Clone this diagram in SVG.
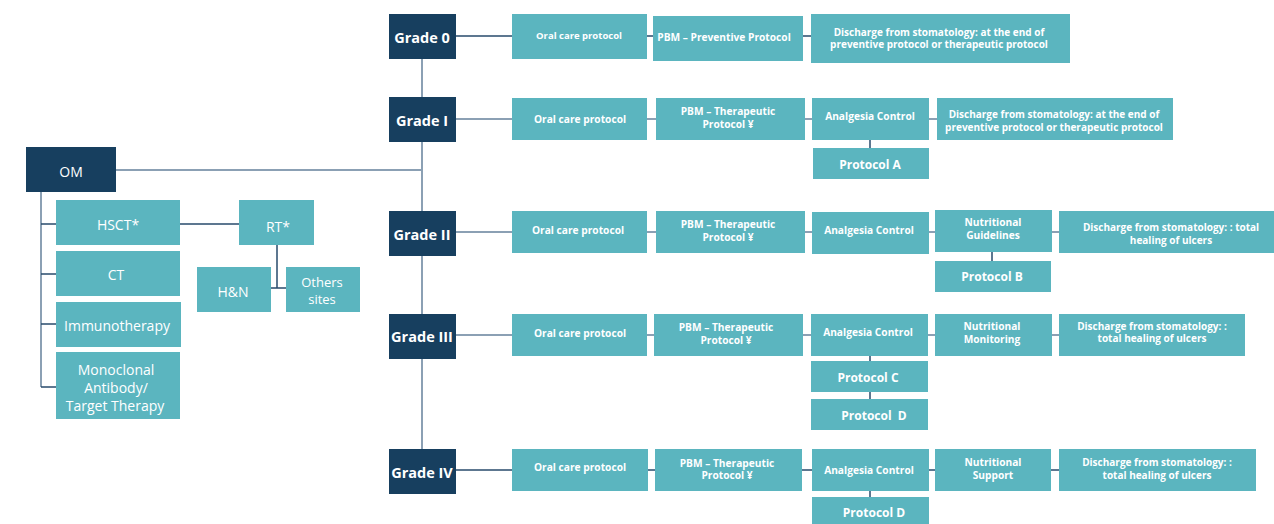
<svg xmlns="http://www.w3.org/2000/svg" width="1274" height="524" viewBox="0 0 1274 524">
<style>
.bg{fill:#ffffff}
.dk{fill:#173f5f}
.tl{fill:#5bb5bf}
.lg{stroke:#8ba0b4;stroke-width:2;fill:none}
.ld{stroke:#274a6b;stroke-width:1.5;fill:none}
text{fill:#ffffff;font-family:"Open Sans","Noto Sans","DejaVu Sans",sans-serif;text-anchor:middle;dominant-baseline:central}
.n{font-size:14px}
.o{font-size:13px}
.g{font-size:14.5px;font-weight:700}
.s{font-size:9.5px;font-weight:700}
.w{font-size:10px;font-weight:700}
.m{font-size:10.2px;font-weight:700}
.p{font-size:12px;font-weight:700}
</style>
<rect class="bg" x="0" y="0" width="1274" height="524"/>
<g id="connectors">
<line class="lg" x1="116" y1="170" x2="422" y2="170"/>
<line class="lg" x1="422" y1="36" x2="422" y2="470"/>
<line class="lg" x1="41" y1="192" x2="41" y2="387"/>
<line class="ld" x1="41" y1="224" x2="56" y2="224"/>
<line class="ld" x1="41" y1="274" x2="56" y2="274"/>
<line class="ld" x1="41" y1="324" x2="56" y2="324"/>
<line class="ld" x1="41" y1="387" x2="56" y2="387"/>
<line class="ld" x1="180" y1="224" x2="239" y2="224"/>
<line class="ld" x1="277" y1="245" x2="277" y2="288"/>
<line class="ld" x1="271" y1="288" x2="286" y2="288"/>
<line class="ld" x1="456" y1="36" x2="811" y2="36"/>
<line class="lg" x1="456" y1="119" x2="937" y2="119"/>
<line class="lg" x1="456" y1="232" x2="1059" y2="232"/>
<line class="lg" x1="456" y1="335" x2="1059" y2="335"/>
<line class="ld" x1="456" y1="470" x2="1059" y2="470"/>
<line class="ld" x1="870" y1="140" x2="870" y2="148"/>
<line class="ld" x1="992" y1="252" x2="992" y2="261"/>
<line class="ld" x1="870" y1="356" x2="870" y2="399"/>
<line class="ld" x1="870" y1="491" x2="870" y2="497"/>
</g>
<g id="om"><rect class="dk" x="26" y="147" width="90" height="45"/><text class="n" x="71" y="171">OM</text></g>
<g id="hsct"><rect class="tl" x="56" y="200" width="124" height="45"/><text class="n" x="118" y="224">HSCT*</text></g>
<g id="ct"><rect class="tl" x="56" y="251" width="124" height="45"/><text class="n" x="116" y="274">CT</text></g>
<g id="immuno"><rect class="tl" x="56" y="302" width="125" height="45"/><text class="n" x="117" y="325">Immunotherapy</text></g>
<g id="mab"><rect class="tl" x="56" y="352" width="124" height="67"/><text class="n" x="116" y="369">Monoclonal</text><text class="n" x="116" y="387">Antibody/</text><text class="n" x="115" y="405">Target Therapy</text></g>
<g id="rt"><rect class="tl" x="239" y="200" width="75" height="45"/><text class="n" x="278" y="226">RT*</text></g>
<g id="hn"><rect class="tl" x="197" y="267" width="74" height="45"/><text class="n" x="233" y="291">H&amp;N</text></g>
<g id="others"><rect class="tl" x="286" y="267" width="74" height="45"/><text class="o" x="322" y="282">Others</text><text class="o" x="322" y="299">sites</text></g>

<g id="grade0"><rect class="dk" x="389" y="14" width="67" height="45"/><text class="g" x="422" y="37">Grade 0</text></g>
<g id="g0-oral"><rect class="tl" x="512" y="14" width="135" height="45"/><text class="s" x="579" y="35">Oral care protocol</text></g>
<g id="g0-pbm"><rect class="tl" x="653" y="16" width="150" height="45"/><text class="m" x="724" y="37">PBM – Preventive Protocol</text></g>
<g id="g0-dis"><rect class="tl" x="811" y="14" width="259" height="49"/><text class="w" x="939" y="32">Discharge from stomatology: at the end of</text><text class="w" x="939" y="44">preventive protocol or therapeutic protocol</text></g>

<g id="grade1"><rect class="dk" x="389" y="97" width="67" height="45"/><text class="g" x="422" y="120">Grade I</text></g>
<g id="g1-oral"><rect class="tl" x="512" y="98" width="135" height="42"/><text class="m" x="580" y="119">Oral care protocol</text></g>
<g id="g1-pbm"><rect class="tl" x="656" y="98" width="149" height="42"/><text class="m" x="728" y="111">PBM – Therapeutic</text><text class="m" x="728" y="124">Protocol ¥</text></g>
<g id="g1-ana"><rect class="tl" x="812" y="98" width="117" height="42"/><text class="m" x="870" y="116">Analgesia Control</text></g>
<g id="g1-dis"><rect class="tl" x="937" y="98" width="236" height="42"/><text class="w" x="1054" y="114">Discharge from stomatology: at the end of</text><text class="w" x="1054" y="127">preventive protocol or therapeutic protocol</text></g>
<g id="g1-pa"><rect class="tl" x="813" y="148" width="116" height="31"/><text class="p" x="870" y="164">Protocol A</text></g>

<g id="grade2"><rect class="dk" x="389" y="211" width="67" height="45"/><text class="g" x="422" y="234">Grade II</text></g>
<g id="g2-oral"><rect class="tl" x="512" y="211" width="135" height="42"/><text class="m" x="578" y="230">Oral care protocol</text></g>
<g id="g2-pbm"><rect class="tl" x="656" y="211" width="149" height="42"/><text class="m" x="728" y="224">PBM – Therapeutic</text><text class="m" x="728" y="237">Protocol ¥</text></g>
<g id="g2-ana"><rect class="tl" x="812" y="212" width="117" height="42"/><text class="m" x="869" y="230">Analgesia Control</text></g>
<g id="g2-nut"><rect class="tl" x="935" y="210" width="117" height="42"/><text class="m" x="993" y="222">Nutritional</text><text class="m" x="993" y="235">Guidelines</text></g>
<g id="g2-dis"><rect class="tl" x="1059" y="211" width="215" height="42"/><text class="w" x="1171" y="227">Discharge from stomatology: : total</text><text class="w" x="1171" y="240">healing of ulcers</text></g>
<g id="g2-pb"><rect class="tl" x="935" y="261" width="116" height="31"/><text class="p" x="992" y="276">Protocol B</text></g>

<g id="grade3"><rect class="dk" x="389" y="314" width="67" height="45"/><text class="g" x="422" y="336">Grade III</text></g>
<g id="g3-oral"><rect class="tl" x="512" y="314" width="135" height="42"/><text class="m" x="580" y="333">Oral care protocol</text></g>
<g id="g3-pbm"><rect class="tl" x="654" y="314" width="149" height="42"/><text class="m" x="726" y="327">PBM – Therapeutic</text><text class="m" x="726" y="340">Protocol ¥</text></g>
<g id="g3-ana"><rect class="tl" x="811" y="314" width="117" height="42"/><text class="m" x="868" y="332">Analgesia Control</text></g>
<g id="g3-nut"><rect class="tl" x="935" y="314" width="117" height="42"/><text class="m" x="992" y="326">Nutritional</text><text class="m" x="992" y="339">Monitoring</text></g>
<g id="g3-dis"><rect class="tl" x="1059" y="314" width="186" height="42"/><text class="w" x="1152" y="326">Discharge from stomatology: :</text><text class="w" x="1152" y="338">total healing of ulcers</text></g>
<g id="g3-pc"><rect class="tl" x="811" y="361" width="117" height="31"/><text class="p" x="868" y="377">Protocol C</text></g>
<g id="g3-pd"><rect class="tl" x="811" y="399" width="117" height="31"/><text class="p" x="874" y="415" xml:space="preserve">Protocol  D</text></g>

<g id="grade4"><rect class="dk" x="389" y="449" width="67" height="45"/><text class="g" x="422" y="472">Grade IV</text></g>
<g id="g4-oral"><rect class="tl" x="512" y="449" width="136" height="42"/><text class="m" x="580" y="467">Oral care protocol</text></g>
<g id="g4-pbm"><rect class="tl" x="655" y="449" width="147" height="42"/><text class="m" x="727" y="463">PBM – Therapeutic</text><text class="m" x="727" y="475">Protocol ¥</text></g>
<g id="g4-ana"><rect class="tl" x="812" y="449" width="117" height="42"/><text class="m" x="869" y="470">Analgesia Control</text></g>
<g id="g4-nut"><rect class="tl" x="935" y="449" width="116" height="42"/><text class="m" x="993" y="462">Nutritional</text><text class="m" x="993" y="475">Support</text></g>
<g id="g4-dis"><rect class="tl" x="1059" y="449" width="197" height="42"/><text class="w" x="1157" y="462">Discharge from stomatology: :</text><text class="w" x="1157" y="475">total healing of ulcers</text></g>
<g id="g4-pd"><rect class="tl" x="812" y="497" width="117" height="27"/><text class="p" x="874" y="512">Protocol D</text></g>
</svg>
